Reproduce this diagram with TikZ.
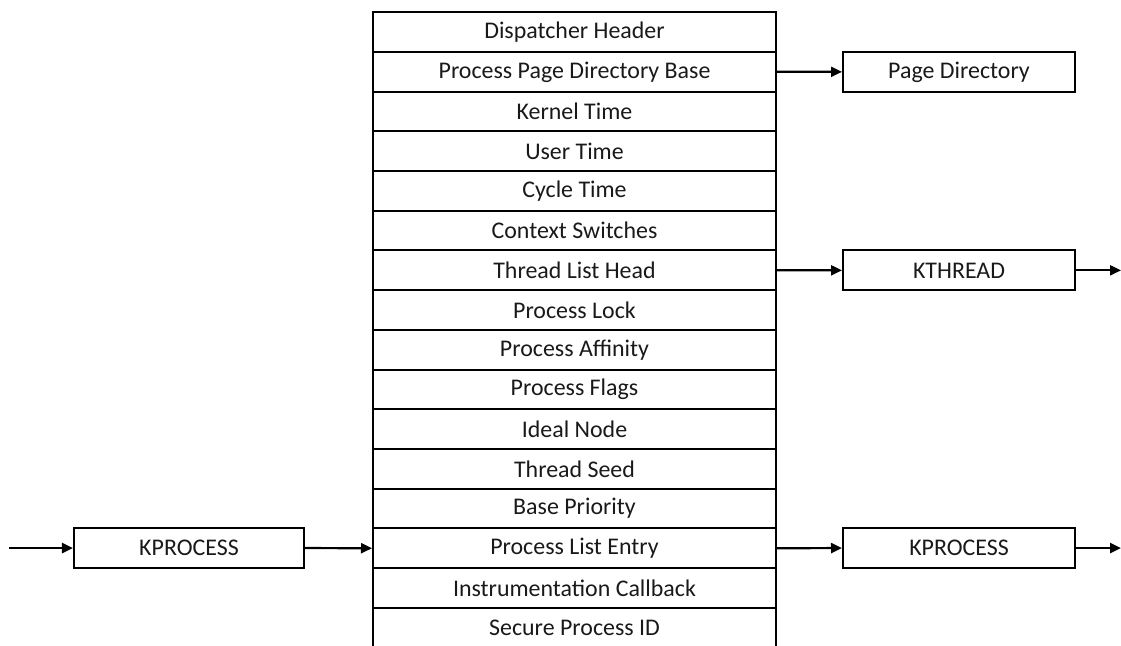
\documentclass[tikz,border=0pt]{standalone}
\usepackage{fontspec}
\setmainfont{Carlito}
\usetikzlibrary{arrows.meta}
\begin{document}
\begin{tikzpicture}[x=1bp,y=-1bp,
  field/.style={draw, line width=2bp, minimum width=403bp, minimum height=39.7bp, inner sep=0pt, text=black!90, font=\fontsize{24}{28}\selectfont},
  sidebox/.style={draw, line width=2bp, minimum width=232bp, minimum height=39.7bp, inner sep=0pt, text=black!90, font=\fontsize{24}{28}\selectfont},
  link/.style={line width=2.2bp, -{Triangle[length=11bp,width=10bp]}}]
\useasboundingbox (0,0) rectangle (1121,646);
\foreach \lab [count=\i] in {Dispatcher Header, Process Page Directory Base, Kernel Time, User Time, Cycle Time, Context Switches, Thread List Head, Process Lock, Process Affinity, Process Flags, Ideal Node, Thread Seed, Base Priority, Process List Entry, Instrumentation Callback, Secure Process ID}
  \node[field] (r\i) at (574.5, {12.3+39.7*(\i-0.5)}) {\lab};
\node[sidebox] (pd) at (959, 71.85) {Page Directory};
\node[sidebox] (kt) at (959, 270.35) {KTHREAD};
\node[sidebox] (kpr) at (959, 548.05) {KPROCESS};
\node[sidebox, minimum width=230bp] (kpl) at (189, 548.05) {KPROCESS};
\coordinate (inl) at (9, 548.05);
\coordinate (outkt) at (1121, 270.35);
\coordinate (outkp) at (1121, 548.05);
\draw[link] (r2.east) -- (pd.west);
\draw[link] (r7.east) -- (kt.west);
\draw[link] (r14.east) -- (kpr.west);
\draw[link] (inl) -- (kpl.west);
\draw[link] (kpl.east) -- (r14.west);
\draw[link] (kt.east) -- (outkt);
\draw[link] (kpr.east) -- (outkp);
\end{tikzpicture}
\end{document}
